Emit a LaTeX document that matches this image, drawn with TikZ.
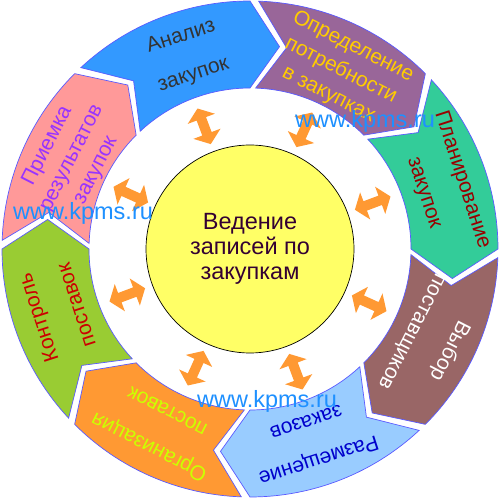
\documentclass[tikz,border=0pt]{standalone}
\usepackage{fontspec}
\setmainfont{Liberation Sans}
\definecolor{cBlue}{HTML}{3399FF}
\definecolor{cPurple}{HTML}{996699}
\definecolor{cGreenR}{HTML}{33CC99}
\definecolor{cBrown}{HTML}{996666}
\definecolor{cLBlue}{HTML}{99CCFF}
\definecolor{cOrange}{HTML}{FF9933}
\definecolor{cGreenL}{HTML}{99CC33}
\definecolor{cPink}{HTML}{FF9999}
\definecolor{tBlue}{HTML}{333333}
\definecolor{tPurple}{HTML}{FFCC00}
\definecolor{tGreenR}{HTML}{990000}
\definecolor{tBrown}{HTML}{FFFFFF}
\definecolor{tLBlue}{HTML}{0000CC}
\definecolor{tOrange}{HTML}{CCFF00}
\definecolor{tGreenL}{HTML}{CC0000}
\definecolor{tPink}{HTML}{9933FF}
\definecolor{cLine}{HTML}{5A5AFF}
\definecolor{cArrow}{HTML}{FF9933}
\definecolor{cCenter}{HTML}{FFFF66}
\definecolor{tCenter}{HTML}{330033}
\definecolor{cMark}{HTML}{1E90FF}
\def\Ro{248}
\def\Ri{161}
\def\Rm{204.5}
\def\hg{1.0}
\def\dd{8.3}
\newcommand{\ringseg}[2]{%
  \path[fill=#2, segline] ({#1-\hg}:\Ro) arc[start angle={#1-\hg}, end angle={#1-45+\hg}, radius=\Ro pt]
    -- ({#1-45+\hg-\dd}:\Rm) -- ({#1-45+\hg}:\Ri)
    arc[start angle={#1-45+\hg}, end angle={#1-\hg}, radius=\Ri pt]
    -- ({#1-\hg-\dd}:\Rm) -- cycle;}
\newcommand{\dblarrow}[1]{%
  \begin{scope}[rotate=#1, xshift=131pt]
    \fill[cArrow] (-19,0) -- (-8,14.5) -- (-8,5) -- (8,5) -- (8,14.5) -- (19,0)
      -- (8,-14.5) -- (8,-5) -- (-8,-5) -- (-8,-14.5) -- cycle;
  \end{scope}}
\tikzset{
  segline/.style={draw=cLine, line width=0.7pt},
  segtext/.style={align=center, inner sep=0pt, font=\fontsize{21}{#1}\selectfont},
  marktext/.style={text=cMark, inner sep=0pt, anchor=base west, font=\fontsize{23.5}{26}\selectfont}
}
\begin{document}
\begin{tikzpicture}[x=1pt,y=1pt]
\useasboundingbox (0,0) rectangle (499,499);
\begin{scope}[shift={(250,250)}]
  \ringseg{134}{cBlue}
  \ringseg{89}{cPurple}
  \ringseg{44}{cGreenR}
  \ringseg{-1}{cBrown}
  \ringseg{-46}{cLBlue}
  \ringseg{-91}{cOrange}
  \ringseg{-136}{cGreenL}
  \ringseg{-181}{cPink}
  \node[circle, fill=cCenter, draw=black, line width=0.7pt, minimum size=208pt, inner sep=0pt] (ctr) at (0,0) {};
  \node[align=center, text=tCenter, font=\fontsize{23.5}{25}\selectfont] (ctrtext) at (0,0) {Ведение\\записей по\\закупкам};
  \foreach \p in {110.5,65.5,20.5,-24.5,-69.5,-114.5,-159.5,155.5} {\dblarrow{\p}}
  \node[segtext=40, text=tBlue, rotate=18] (t1) at (108:203) {Анализ\\закупок};
  \node[segtext=27, text=tPurple, rotate=-27] (t2) at (63:200) {Определение\\потребности\\в закупках};
  \node[segtext=40, text=tGreenR, rotate=-72] (t3) at (18:203) {Планирование\\закупок};
  \node[segtext=42, text=tBrown, rotate=-117] (t4) at (-27:203) {Выбор\\поставщиков};
  \node[segtext=40, text=tLBlue, rotate=-162] (t5) at (-72:203) {Размещение\\заказов};
  \node[segtext=40, text=tOrange, rotate=153] (t6) at (-117:203) {Организация\\поставок};
  \node[segtext=40, text=tGreenL, rotate=108] (t7) at (-162:203) {Контроль\\поставок};
  \node[segtext=27, text=tPink, rotate=63] (t8) at (153:200) {Приемка\\результатов\\закупок};
\end{scope}
\node[marktext] (w1) at (13,279) {www.kpms.ru};
\node[marktext] (w2) at (295,371) {www.kpms.ru};
\node[marktext] (w3) at (197,92) {www.kpms.ru};
\end{tikzpicture}
\end{document}
